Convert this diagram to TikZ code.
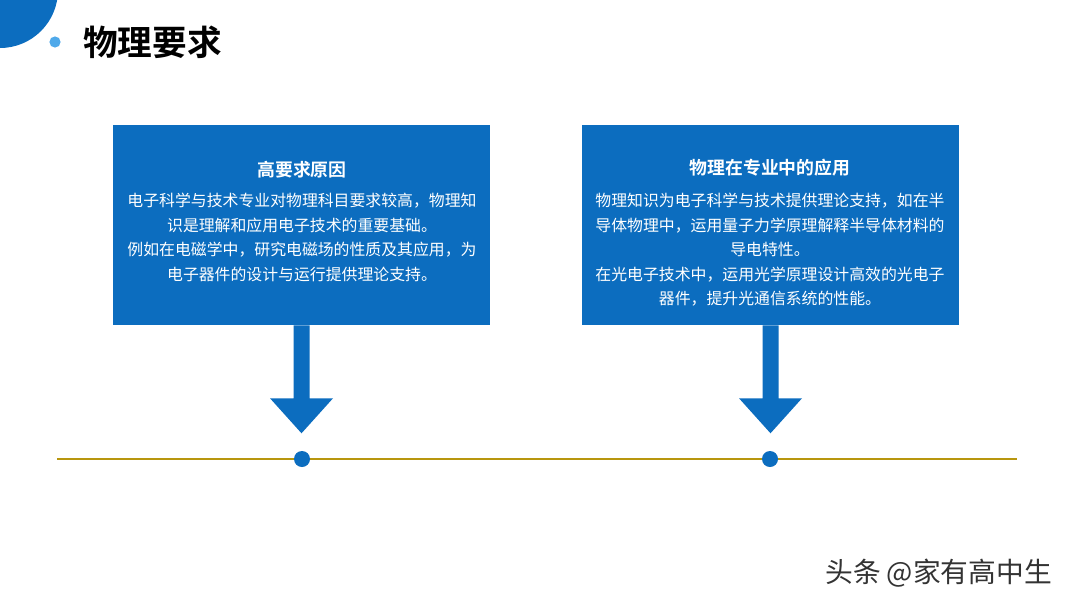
\documentclass[tikz,border=0pt]{standalone}
\usepackage{fontspec}
\setmainfont{Noto Sans CJK SC}
\newfontfamily\cjkbold{Noto Sans CJK SC Bold}
\usetikzlibrary{calc}
\definecolor{mainblue}{HTML}{0C6DBF}
\definecolor{lightblue}{HTML}{4FA9EA}
\definecolor{gold}{HTML}{B8960E}
\definecolor{wmgray}{HTML}{333333}
\tikzset{
  infobox/.style={fill=mainblue, draw=none, minimum width=282.75pt, minimum height=150pt, inner sep=0pt},
  boxtitle/.style={text=white, font=\cjkbold\fontsize{13.4}{16}\selectfont, inner sep=0pt, anchor=center},
  boxbody/.style={text=white, font=\fontsize{11.9}{18.4}\selectfont, align=center, inner sep=0pt, anchor=north},
  tdot/.style={circle, fill=mainblue, minimum size=12pt, inner sep=0pt},
}
\begin{document}
\begin{tikzpicture}[x=0.75pt,y=-0.75pt]
\useasboundingbox (0,0) rectangle (1071,604);
\fill[white] (0,0) rectangle (1071,604);
% decorations
\begin{scope}
\clip (0,0) rectangle (1071,604);
\fill[mainblue] (0,-10) circle[radius=43.5pt];
\end{scope}
\fill[lightblue] (55,42) circle[radius=4.2pt];
\node[anchor=west, inner sep=0pt, font=\cjkbold\fontsize{26}{30}\selectfont] (title) at (83,42) {物理要求};
% boxes
\node[infobox] (b1) at (301.5,225) {};
\node[infobox] (b2) at (770.5,225) {};
\node[boxtitle] (t1) at (302,170) {高要求原因};
\node[boxtitle] (t2) at (770,168) {物理在专业中的应用};
\node[boxbody] (d1) at (302,193) {电子科学与技术专业对物理科目要求较高，物理知\\识是理解和应用电子技术的重要基础。\\例如在电磁学中，研究电磁场的性质及其应用，为\\电子器件的设计与运行提供理论支持。};
\node[boxbody] (d2) at (770,193) {物理知识为电子科学与技术提供理论支持，如在半\\导体物理中，运用量子力学原理解释半导体材料的\\导电特性。\\在光电子技术中，运用光学原理设计高效的光电子\\器件，提升光通信系统的性能。};
% timeline
\coordinate (lstart) at (57,459);
\coordinate (lend) at (1017,459);
\draw[gold, line width=2.2pt] (lstart) -- (lend);
\node[tdot] (p1) at (302,459) {};
\node[tdot] (p2) at (770,459) {};
% arrows
\foreach \b/\p in {b1/p1, b2/p2}{
  \fill[mainblue] ($(\b.south)+(-8,0)$) -- ($(\b.south)+(8,0)$) -- ($(\b.south)+(8,73)$) -- ($(\b.south)+(31.5,73)$)
     -- ($(\b.south)+(0,108)$) -- ($(\b.south)+(-31.5,73)$) -- ($(\b.south)+(-8,73)$) -- cycle;
}
% watermark
\node[anchor=west, inner sep=0pt, text=wmgray, font=\fontsize{20.8}{22}\selectfont] (wm) at (825,573) {头条 @家有高中生};
\end{tikzpicture}
\end{document}
